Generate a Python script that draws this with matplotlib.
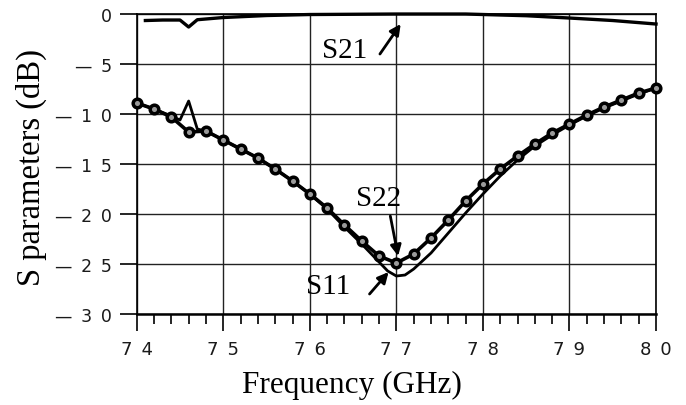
import numpy as np
import matplotlib
matplotlib.use("Agg")
import matplotlib.pyplot as plt
from matplotlib.ticker import MultipleLocator

# S22 (circle markers, every 0.2 GHz)
f_s22 = [74.0, 74.2, 74.4, 74.6, 74.8, 75.0, 75.2, 75.4, 75.6, 75.8,
         76.0, 76.2, 76.4, 76.6, 76.8, 77.0, 77.2, 77.4, 77.6, 77.8,
         78.0, 78.2, 78.4, 78.6, 78.8, 79.0, 79.2, 79.4, 79.6, 79.8, 80.0]
s22 = [-8.9, -9.5, -10.3, -11.8, -11.7, -12.6, -13.5, -14.4, -15.5, -16.7,
       -18.0, -19.4, -21.1, -22.7, -24.2, -24.9, -24.0, -22.4, -20.6, -18.7,
       -17.0, -15.5, -14.2, -13.0, -11.9, -11.0, -10.1, -9.3, -8.6, -7.9, -7.4]

# S11 (plain line)
f_s11 = [74.0, 74.2, 74.4, 74.5, 74.6, 74.7, 74.8, 75.0, 75.2, 75.4, 75.6,
         75.8, 76.0, 76.2, 76.4, 76.6, 76.8, 76.9, 77.0, 77.1, 77.2, 77.4,
         77.6, 77.8, 78.0, 78.2, 78.4, 78.6, 78.8, 79.0, 79.2, 79.4, 79.6,
         79.8, 80.0]
s11 = [-8.9, -9.5, -10.2, -10.6, -8.7, -11.5, -11.7, -12.6, -13.5, -14.4, -15.5,
       -16.7, -18.0, -19.5, -21.3, -23.0, -24.8, -25.7, -26.2, -26.1, -25.5, -23.9,
       -21.9, -19.9, -18.0, -16.2, -14.6, -13.2, -12.1, -11.1, -10.2, -9.4, -8.7,
       -8.0, -7.4]

# S21 (near 0 dB)
f_s21 = [74.1, 74.3, 74.5, 74.6, 74.7, 75.0, 75.5, 76.0, 77.0, 77.8, 78.5,
         79.0, 79.5, 80.0]
s21 = [-0.65, -0.6, -0.6, -1.3, -0.57, -0.35, -0.15, -0.05, 0.0, 0.0, -0.17,
       -0.4, -0.65, -1.0]

sp = "\u2002"
x_ticks = [74, 75, 76, 77, 78, 79, 80]
x_labels = [sp.join(str(v)) for v in x_ticks]
y_ticks = [0, -5, -10, -15, -20, -25, -30]
y_labels = ["0"] + ["\u2014" + sp + sp.join(str(-v)) for v in y_ticks[1:]]

serif = "Liberation Serif"

fig = plt.figure(figsize=(6.86, 4.06), dpi=100)
ax = fig.add_axes([0.1993, 0.2241, 0.7570, 0.7389])

ax.plot(f_s11, s11, color="k", lw=2.0, clip_on=False, zorder=3)
ax.plot(f_s22, s22, color="k", lw=2.6, marker="o", ms=6.2, mfc="#9a9a9a",
        mec="k", mew=2.5, clip_on=False, zorder=4)
ax.plot(f_s21, s21, color="k", lw=2.4, clip_on=False, zorder=3)

ax.set_xlim(74, 80)
ax.set_ylim(-30, 0)
ax.set_xticks(x_ticks)
ax.set_xticklabels(x_labels)
ax.set_yticks(y_ticks)
ax.set_yticklabels(y_labels)
ax.xaxis.set_minor_locator(MultipleLocator(0.2))
ax.tick_params(axis="x", which="major", direction="out", length=12, width=1.2, pad=7,
               labelsize=13)
ax.tick_params(axis="x", which="minor", direction="out", length=7, width=1.2)
ax.tick_params(axis="y", which="major", direction="out", length=12, width=1.2, pad=6,
               labelsize=12.5)
for lab in ax.get_xticklabels() + ax.get_yticklabels():
    lab.set_color("#1a1a1a")
ax.grid(True, which="major", color="#222222", lw=1.0)
for s in ax.spines.values():
    s.set_linewidth(1.2)
ax.spines["bottom"].set_linewidth(1.8)

fig.text(352 / 686, 1 - 385 / 406, "Frequency (GHz)", family=serif, fontsize=22.5,
         ha="center", va="center")
fig.text(31 / 686, 1 - 168 / 406, "S parameters (dB)", family=serif, fontsize=23.5,
         ha="center", va="center", rotation=90)

arrow = dict(arrowstyle="-|>", lw=2.0, color="k", mutation_scale=16,
             shrinkA=0, shrinkB=0)
ax.annotate("", xy=(77.05, -1.0), xytext=(76.81, -4.0), arrowprops=arrow)
ax.text(76.40, -3.6, "S21", family=serif, fontsize=21, ha="center", va="center")
ax.annotate("", xy=(77.02, -24.2), xytext=(76.93, -20.2), arrowprops=arrow)
ax.text(76.80, -18.4, "S22", family=serif, fontsize=21, ha="center", va="center")
ax.annotate("", xy=(76.91, -25.8), xytext=(76.69, -28.0), arrowprops=arrow)
ax.text(76.21, -27.2, "S11", family=serif, fontsize=21, ha="center", va="center")

fig.savefig("out.png", dpi=100)
